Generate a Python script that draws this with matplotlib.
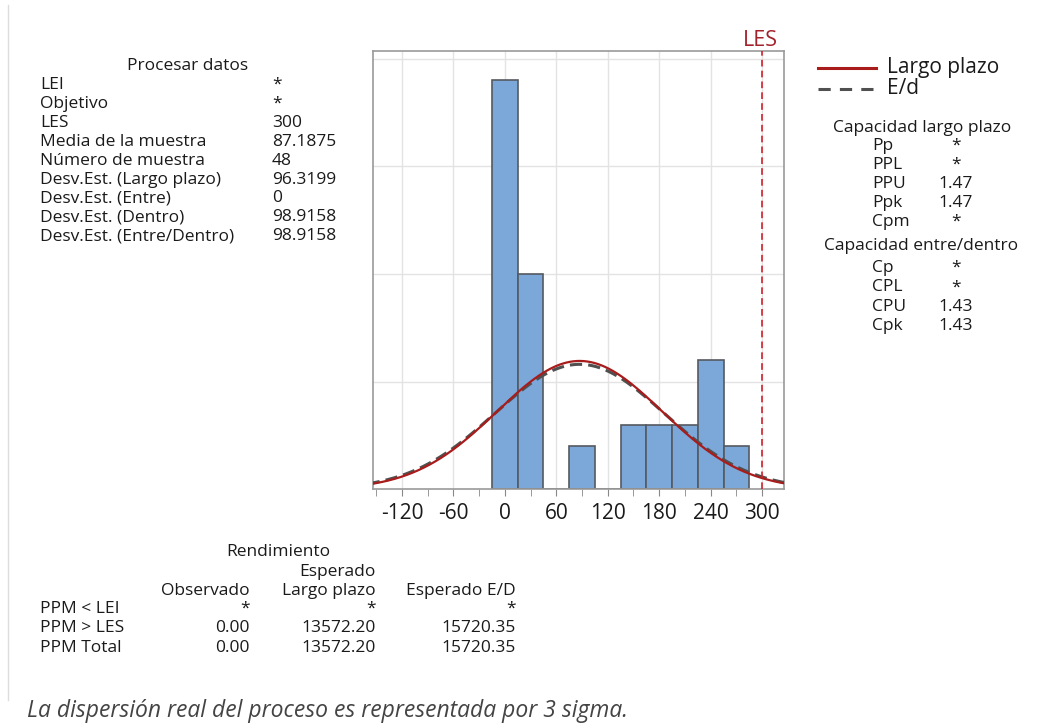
import matplotlib.pyplot as plt
import numpy as np

plt.rcParams['font.family'] = ['Open Sans', 'DejaVu Sans']

# histogram of the process data (bin centers, width 30)
bin_centers = [0, 30, 60, 90, 120, 150, 180, 210, 240, 270]
counts = [19, 10, 0, 2, 0, 3, 3, 3, 6, 2]
bin_width = 30

n_samples = 48
sample_mean = 87.1875
sd_overall = 96.3199
sd_within = 98.9158
usl = 300

x_ticks = [-120, -60, 0, 60, 120, 180, 240, 300]

proc_labels = ['LEI', 'Objetivo', 'LES', 'Media de la muestra', 'Número de muestra',
               'Desv.Est. (Largo plazo)', 'Desv.Est. (Entre)', 'Desv.Est. (Dentro)',
               'Desv.Est. (Entre/Dentro)']
proc_values = ['*', '*', '300', '87.1875', '48', '96.3199', '0', '98.9158', '98.9158']

lp_labels = ['Pp', 'PPL', 'PPU', 'Ppk', 'Cpm']
lp_values = ['*', '*', '1.47', '1.47', '*']
ed_labels = ['Cp', 'CPL', 'CPU', 'Cpk']
ed_values = ['*', '*', '1.43', '1.43']

ppm_rows = ['PPM < LEI', 'PPM > LES', 'PPM Total']
ppm_observed = ['*', '0.00', '0.00']
ppm_long = ['*', '13572.20', '13572.20']
ppm_within = ['*', '15720.35', '15720.35']

W, H = 1047, 724
fig = plt.figure(figsize=(W / 100, H / 100), dpi=100)
fig.patch.set_facecolor('white')

def px(x, y):
    return x / W, 1 - y / H

txt = '#1a1a1a'
fs = 12.5

ax = fig.add_axes([373 / W, 1 - 489.3 / H, (784 - 373) / W, (489.3 - 50.7) / H])
ax.bar(bin_centers, counts, width=bin_width, color='#7ba7d9', edgecolor='#555a60',
       linewidth=1.2, zorder=2)

xs = np.linspace(-160, 330, 600)
scale = n_samples * bin_width
pdf_lp = scale / (sd_overall * np.sqrt(2 * np.pi)) * np.exp(-0.5 * ((xs - sample_mean) / sd_overall) ** 2)
pdf_ed = scale / (sd_within * np.sqrt(2 * np.pi)) * np.exp(-0.5 * ((xs - sample_mean) / sd_within) ** 2)
ax.plot(xs, pdf_ed, color='#505050', lw=2.2, ls=(0, (4, 2)), zorder=3)
ax.plot(xs, pdf_lp, color='#a81c1c', lw=1.6, zorder=4)

ax.axvline(usl, color='#d0202a', lw=1.2, ls=(0, (4, 2.5)), zorder=5)

ax.set_xlim(-153.7, 325.5)
ax.set_ylim(0, 20.38)
ax.set_xticks(x_ticks)
ax.set_xticks(np.arange(-150, 330, 30), minor=True)
ax.set_xticklabels([str(v) for v in x_ticks], fontsize=15, color=txt)
ax.set_yticks([5, 10, 15, 20])
ax.tick_params(axis='y', length=0, labelleft=False)
ax.tick_params(axis='x', which='both', length=5, color='#888888', pad=5)
ax.grid(True, color='#e3e3e3', lw=1, zorder=0)
ax.set_axisbelow(True)
for s in ax.spines.values():
    s.set_color('#9a9a9a')
    s.set_linewidth(1.2)

fig.text(*px(760, 40), 'LES', color='#a3212b', fontsize=15.5, ha='center', va='center')

# process data panel
fig.text(*px(188, 66), 'Procesar datos', fontsize=fs, color=txt, ha='center', va='center')
for i, (lab, val) in enumerate(zip(proc_labels, proc_values)):
    y = 85 + i * 18.9
    fig.text(*px(40, y), lab, fontsize=fs, color=txt, ha='left', va='center')
    fig.text(*px(272, y), val, fontsize=fs, color=txt, ha='left', va='center')

# legend
fig.add_artist(plt.Line2D([818 / W, 876 / W], [1 - 68 / H] * 2, color='#a81c1c', lw=2.2))
fig.add_artist(plt.Line2D([818 / W, 876 / W], [1 - 89 / H] * 2, color='#505050', lw=2.2,
                          ls=(0, (4, 3))))
fig.text(*px(887, 68), 'Largo plazo', fontsize=15, color=txt, ha='left', va='center')
fig.text(*px(887, 89), 'E/d', fontsize=15, color=txt, ha='left', va='center')

# capability panels
fig.text(*px(922, 128), 'Capacidad largo plazo', fontsize=fs, color=txt, ha='center', va='center')
for i, (lab, val) in enumerate(zip(lp_labels, lp_values)):
    y = 146 + i * 19
    fig.text(*px(872, y), lab, fontsize=fs, color=txt, ha='left', va='center')
    fig.text(*px(956, y), val, fontsize=fs, color=txt, ha='center', va='center')
fig.text(*px(921, 246), 'Capacidad entre/dentro', fontsize=fs, color=txt, ha='center', va='center')
for i, (lab, val) in enumerate(zip(ed_labels, ed_values)):
    y = 268 + i * 19.3
    fig.text(*px(872, y), lab, fontsize=fs, color=txt, ha='left', va='center')
    fig.text(*px(956, y), val, fontsize=fs, color=txt, ha='center', va='center')

# yield table
fig.text(*px(278, 552), 'Rendimiento', fontsize=fs, color=txt, ha='center', va='center')
fig.text(*px(376, 572), 'Esperado', fontsize=fs, color=txt, ha='right', va='center')
fig.text(*px(250, 591), 'Observado', fontsize=fs, color=txt, ha='right', va='center')
fig.text(*px(376, 591), 'Largo plazo', fontsize=fs, color=txt, ha='right', va='center')
fig.text(*px(516, 591), 'Esperado E/D', fontsize=fs, color=txt, ha='right', va='center')
for i, lab in enumerate(ppm_rows):
    y = 609 + i * 19.5
    fig.text(*px(40, y), lab, fontsize=fs, color=txt, ha='left', va='center')
    fig.text(*px(250, y), ppm_observed[i], fontsize=fs, color=txt, ha='right', va='center')
    fig.text(*px(376, y), ppm_long[i], fontsize=fs, color=txt, ha='right', va='center')
    fig.text(*px(516, y), ppm_within[i], fontsize=fs, color=txt, ha='right', va='center')

fig.text(*px(27, 711), 'La dispersión real del proceso es representada por 3 sigma.',
         fontsize=16.5, style='italic', color='#444444', ha='left', va='center')

# thin frame line on the left
fig.add_artist(plt.Line2D([8 / W] * 2, [1 - 5 / H, 1 - 700 / H], color='#dddddd', lw=1))

fig.savefig('out.png', dpi=100)
